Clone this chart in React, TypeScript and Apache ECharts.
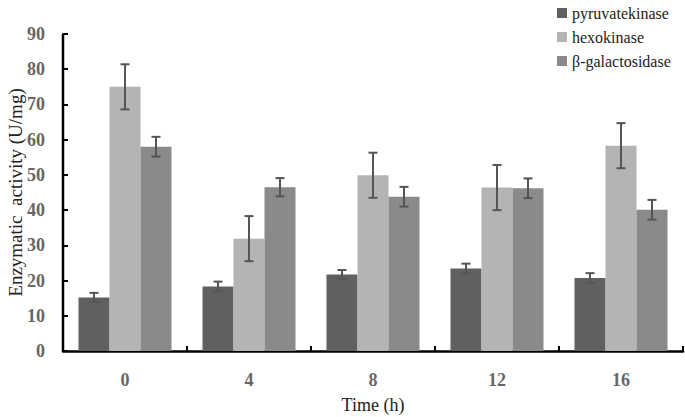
import React, { useEffect, useRef } from "react";
import * as echarts from "echarts";

const categories = ["0", "4", "8", "12", "16"];
const seriesNames = ["pyruvatekinase", "hexokinase", "β-galactosidase"];
const pyruvate = [15.2, 18.3, 21.7, 23.4, 20.7];
const pyruvateErr = [1.3, 1.4, 1.3, 1.4, 1.4];
const hexokinase = [75.0, 31.9, 49.9, 46.4, 58.3];
const hexokinaseErr = [6.4, 6.4, 6.4, 6.4, 6.4];
const galactosidase = [58.0, 46.5, 43.8, 46.2, 40.1];
const galactosidaseErr = [2.8, 2.6, 2.8, 2.8, 2.8];
const halfTicks = ["a", "b", "c", "d", "e", "f", "g", "h", "i", "j"];
const yRange = [0, 90];

const colors = ["#606060", "#b4b4b4", "#8a8a8a"];
const serif = "Liberation Serif";

export default function App() {
  const ref = useRef<HTMLDivElement>(null);
  useEffect(() => {
    document.body.style.margin = "0";
    if (!ref.current) return;
    const chart = echarts.init(ref.current, null, { renderer: "svg" });
    const values = [pyruvate, hexokinase, galactosidase];
    const errs = [pyruvateErr, hexokinaseErr, galactosidaseErr];
    const barCategoryGap = 0.25;

    const barSeries = seriesNames.map((name, i) => ({
      name,
      type: "bar",
      data: values[i],
      barGap: "0%",
      barCategoryGap: "25%",
      itemStyle: { color: colors[i] },
      xAxisIndex: 0,
      yAxisIndex: 0,
      z: 2,
    }));

    const errSeries = seriesNames.map((name, i) => ({
      name: name + "-err",
      type: "custom",
      xAxisIndex: 0,
      yAxisIndex: 0,
      z: 5,
      data: values[i].map((v, k) => [k, v - errs[i][k], v + errs[i][k]]),
      encode: { x: 0, y: [1, 2] },
      renderItem: (params: any, api: any) => {
        const idx = api.value(0);
        const lo = api.coord([idx, api.value(1)]);
        const hi = api.coord([idx, api.value(2)]);
        const band = api.size([1, 0])[0];
        const barW = (band * (1 - barCategoryGap)) / 3;
        const x = lo[0] + (i - 1) * barW;
        const cap = 4.5;
        const style = { stroke: "#555555", lineWidth: 2, fill: null };
        return {
          type: "group",
          children: [
            { type: "line", shape: { x1: x, y1: lo[1], x2: x, y2: hi[1] }, style },
            { type: "line", shape: { x1: x - cap, y1: lo[1], x2: x + cap, y2: lo[1] }, style },
            { type: "line", shape: { x1: x - cap, y1: hi[1], x2: x + cap, y2: hi[1] }, style },
          ],
        };
      },
    }));

    const yAxisLineSeries = {
      name: "y-axis-line",
      type: "custom",
      xAxisIndex: 0,
      yAxisIndex: 0,
      z: 10,
      silent: true,
      clip: false,
      data: [[0, yRange[0], yRange[1]]],
      encode: { x: 0, y: [1, 2] },
      renderItem: (params: any, api: any) => {
        const band = api.size([1, 0])[0];
        const p0 = api.coord([api.value(0), api.value(1)]);
        const p1 = api.coord([api.value(0), api.value(2)]);
        const x = p0[0] - band / 2;
        return {
          type: "line",
          shape: { x1: x, y1: p0[1], x2: x, y2: p1[1] },
          style: { stroke: "#000", lineWidth: 2.5, fill: null },
        };
      },
    };

    chart.setOption({
      animation: false,
      legend: {
        data: seriesNames,
        orient: "vertical",
        left: 552,
        top: 0,
        itemWidth: 10,
        itemHeight: 10,
        itemGap: 8,
        icon: "rect",
        textStyle: { fontFamily: serif, fontSize: 16, color: "#222" },
      },
      grid: { left: 63, right: 2, top: 34, bottom: 66, containLabel: false, outerBoundsMode: "none" },
      xAxis: [
        {
          type: "category",
          data: categories,
          axisLine: { lineStyle: { color: "#000", width: 2.5 } },
          axisTick: { show: false },
          axisLabel: { fontFamily: serif, fontSize: 18, fontWeight: "bold", color: "#666", margin: 20 },
          name: "Time (h)",
          nameLocation: "middle",
          nameGap: 45,
          nameTextStyle: { fontFamily: serif, fontSize: 18, color: "#222" },
        },
        {
          type: "category",
          data: halfTicks,
          position: "bottom",
          axisLine: { show: false },
          axisTick: { show: true, inside: true, length: 5, lineStyle: { color: "#000", width: 2 } },
          axisLabel: { show: false },
        },
      ],
      yAxis: {
        type: "value",
        min: yRange[0],
        max: yRange[1],
        interval: 10,
        z: 10,
        axisLine: { show: true, onZero: false, lineStyle: { color: "#000", width: 2 } },
        axisTick: { show: true, inside: true, length: 5, lineStyle: { color: "#000", width: 2 } },
        splitLine: { show: false },
        axisLabel: { fontFamily: serif, fontSize: 18, fontWeight: "bold", color: "#666", margin: 18 },
        name: "Enzymatic  activity (U/mg)",
        nameLocation: "middle",
        nameMoveOverlap: false,
        nameGap: 38,
        nameTextStyle: { fontFamily: serif, fontSize: 19, color: "#222" },
      },
      series: [...barSeries, ...errSeries, yAxisLineSeries],
    });
    return () => chart.dispose();
  }, []);
  return <div ref={ref} style={{ width: 685, height: 417 }} />;
}
